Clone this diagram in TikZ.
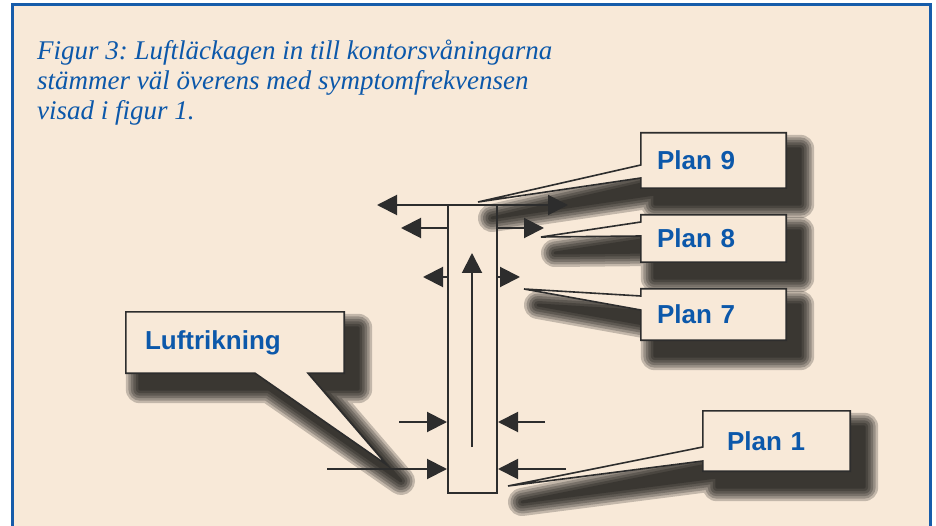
\documentclass[tikz,border=0pt]{standalone}
\usepackage{fontspec}
\setmainfont{Liberation Serif}
\setsansfont{Liberation Sans}
\usetikzlibrary{arrows.meta}
\definecolor{paper}{RGB}{248,233,216}
\definecolor{frameblue}{RGB}{22,92,170}
\definecolor{textblue}{RGB}{12,88,170}
\definecolor{ink}{RGB}{45,45,45}
\pgfdeclarelayer{pagebg}
\pgfdeclarelayer{shade}
\pgfdeclarelayer{boxes}
\pgfsetlayers{pagebg,shade,boxes,main}
\tikzset{
  flow/.style={draw=ink,line width=2pt},
  callbox/.style={inner ysep=0pt,align=left,text=textblue,
    font=\sffamily\bfseries\fontsize{26}{26}\selectfont},
  outline/.style={fill=paper,draw=ink,line width=1.6pt,line join=miter}
}
\newcommand\bubbleshadow[1]{%
  \begin{scope}[transform canvas={shift={(14pt,-16pt)}}]
  \foreach \w in {28,23,18,13,8,3}{%
    \begin{scope}[transparency group,opacity=0.21]
      \filldraw[black,line width=\w pt,line join=round] #1;
    \end{scope}}
  \end{scope}}
\frenchspacing

\begin{document}
\begin{tikzpicture}[x=1pt,y=-1pt,>={Triangle[length=20pt,width=20pt]}]
\useasboundingbox (0,0) rectangle (936,526);
\begin{pgfonlayer}{pagebg}
\fill[paper] (12,5) rectangle (930,530);
\draw[frameblue,line width=3pt] (12,530) -- (12,5) -- (930,5) -- (930,530);
\end{pgfonlayer}

\node[anchor=north west,align=left,inner sep=0pt,text=textblue,
  font=\itshape\fontsize{27}{30}\selectfont] (title) at (37,40)
  {Figur 3: Luftläckagen in till kontorsvåningarna\\
   stämmer väl överens med symptomfrekvensen\\
   visad i figur 1.};

% schaktet
\node[draw=ink,line width=2pt,minimum width=49pt,minimum height=288pt,inner sep=0pt] (shaft) at (472.5,349) {};
\coordinate (o9l) at (377,205);
\coordinate (o9r) at (568,205);
\coordinate (o8l) at (401,228);
\coordinate (o8r) at (544,228);
\coordinate (o7l) at (423,277);
\coordinate (o7r) at (520,277);
\coordinate (i2l) at (399,422);
\coordinate (i2r) at (545,422);
\coordinate (i1l) at (327,469);
\coordinate (i1r) at (566,469);
\coordinate (upb) at (472,447);
\coordinate (upt) at (472,253);

\draw[flow,<->] (o9l) -- (o9r);
\draw[flow,->] (shaft.west |- o8l) -- (o8l);
\draw[flow,->] (shaft.east |- o8r) -- (o8r);
\draw[flow,->] (shaft.west |- o7l) -- (o7l);
\draw[flow,->] (shaft.east |- o7r) -- (o7r);
\draw[flow,->] (upb) -- (upt);
\draw[flow,->] (i2l) -- (shaft.west |- i2l);
\draw[flow,->] (i2r) -- (shaft.east |- i2r);
\draw[flow,->] (i1l) -- (shaft.west |- i1l);
\draw[flow,->] (i1r) -- (shaft.east |- i1r);

% pratbubblor
\coordinate (tip9) at (478,202);
\coordinate (tip8) at (541,237);
\coordinate (tip7) at (524,289);
\coordinate (tip1) at (508,486);
\coordinate (tiplr) at (387,465);

\node[callbox,minimum width=145pt,minimum height=55pt,text width=113pt,inner xsep=16pt] (p9) at (713.5,160.5) {Plan 9};
\node[callbox,minimum width=145pt,minimum height=47pt,text width=113pt,inner xsep=16pt] (p8) at (713.5,238.5) {Plan 8};
\node[callbox,minimum width=145pt,minimum height=51pt,text width=113pt,inner xsep=16pt] (p7) at (713.5,314.5) {Plan 7};
\node[callbox,minimum width=147pt,minimum height=60pt,text width=99pt,inner xsep=24pt] (p1) at (776.5,441) {Plan 1};
\node[callbox,minimum width=218pt,minimum height=61pt,text width=180pt,inner xsep=19pt] (lr) at (235,342.5) {Luftrikning};

\def\bubnine{(p9.north west) -- (p9.north east) -- (p9.south east) -- (p9.south west)
  -- ([yshift=-17.5pt]p9.west) -- (tip9) -- ([yshift=-4.5pt]p9.west) -- cycle}
\def\bubeight{(p8.north west) -- (p8.north east) -- (p8.south east) -- (p8.south west)
  -- ([yshift=2.5pt]p8.west) -- (tip8) -- ([yshift=16.5pt]p8.west) -- cycle}
\def\bubseven{(p7.north west) -- (p7.north east) -- (p7.south east) -- (p7.south west)
  -- ([yshift=4.5pt]p7.west) -- (tip7) -- ([yshift=18.5pt]p7.west) -- cycle}
\def\bubone{(p1.north west) -- (p1.north east) -- (p1.south east) -- (p1.south west)
  -- ([yshift=-20pt]p1.west) -- (tip1) -- ([yshift=-6pt]p1.west) -- cycle}
\def\bublr{(lr.north west) -- (lr.north east) -- (lr.south east)
  -- ([xshift=73pt]lr.south) -- (tiplr) -- ([xshift=20pt]lr.south) -- (lr.south west) -- cycle}

\begin{pgfonlayer}{shade}
\bubbleshadow{\bubnine}
\bubbleshadow{\bubeight}
\bubbleshadow{\bubseven}
\bubbleshadow{\bubone}
\bubbleshadow{\bublr}
\end{pgfonlayer}
\begin{pgfonlayer}{boxes}
\draw[outline] \bubnine;
\draw[outline] \bubeight;
\draw[outline] \bubseven;
\draw[outline] \bubone;
\draw[outline] \bublr;
\end{pgfonlayer}
\end{tikzpicture}
\end{document}
